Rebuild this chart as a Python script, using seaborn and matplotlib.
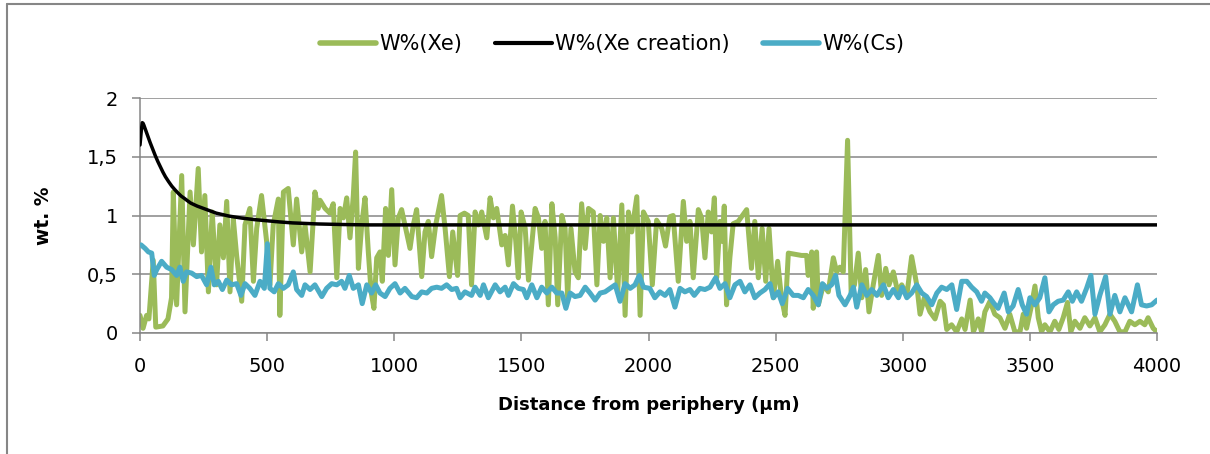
import matplotlib
matplotlib.use("Agg")
import matplotlib.pyplot as plt
import seaborn as sns
from matplotlib.lines import Line2D
from matplotlib.ticker import FuncFormatter

# W%(Xe): distance (um) / wt.%
xe_dist = [0, 12, 26, 35, 52, 62, 90, 110, 124, 131, 144, 164, 177, 197, 210, 229, 242, 255, 269, 284,
           301, 314, 328, 341, 354, 367, 380, 400, 413, 432, 446, 459, 478, 498, 511, 524, 544, 550, 564, 583,
           603, 616, 636,
           649, 669, 688, 701, 708, 728, 747, 760, 774, 787, 800, 813, 826, 839, 848, 859, 872, 885, 898, 909,
           920, 931, 944, 953, 966, 977, 990, 1003, 1016, 1029, 1042, 1062, 1075, 1088, 1108, 1121, 1134, 1147,
           1163, 1186, 1200, 1217, 1230, 1249, 1259, 1276, 1291, 1304,
           1318, 1331, 1344, 1364, 1377, 1390, 1403, 1423, 1436, 1449, 1465, 1478, 1488, 1499, 1515, 1528, 1541,
           1554, 1567, 1580, 1593, 1606, 1620, 1633, 1643, 1659, 1672, 1682, 1695, 1711, 1724, 1737, 1751, 1764,
           1783, 1797, 1810, 1823, 1836, 1849, 1862, 1879, 1895, 1908, 1921, 1934, 1954, 1967, 1980,
           1999, 2015, 2032, 2052, 2067, 2084, 2097, 2117, 2137, 2150, 2163, 2176, 2196, 2209, 2222, 2235, 2248,
           2259, 2268, 2281, 2290, 2298, 2307, 2320, 2333, 2353, 2386, 2405, 2418, 2432, 2447, 2461, 2474, 2491,
           2508, 2523, 2537, 2550, 2602, 2622, 2628, 2642, 2648, 2661,
           2668, 2688, 2707, 2727, 2740, 2753, 2766, 2783, 2797, 2810, 2825, 2839, 2854, 2867, 2884, 2904, 2917,
           2933, 2946, 2963, 2980, 2996, 3016, 3035, 3055, 3068, 3085, 3107, 3127, 3147, 3160, 3173, 3192, 3212,
           3232, 3245, 3265, 3278, 3297, 3310,
           3323, 3343, 3362, 3382, 3402, 3421, 3441, 3461, 3474, 3487, 3507, 3520, 3533, 3546, 3559, 3579, 3598,
           3614, 3631, 3648, 3661, 3677, 3697, 3716, 3736, 3756, 3775, 3795, 3815, 3834, 3854, 3874, 3893, 3913,
           3933, 3952, 3965, 3985, 4000]
xe_wt = [0.15, 0.04, 0.15, 0.12, 0.62, 0.05, 0.06, 0.12, 0.3, 1.2, 0.24, 1.34, 0.18, 1.2, 0.75, 1.4, 0.69, 1.17, 0.35, 1.03,
         0.41, 0.92, 0.64, 1.12, 0.35, 0.97, 0.66, 0.27, 0.92, 1.06, 0.44, 0.89, 1.17, 0.78, 0.41, 0.92, 1.14, 0.15, 1.2, 1.23,
         0.75, 1.14, 0.69,
         0.92, 0.52, 1.2, 1.06, 1.13, 1.06, 1.02, 1.1, 0.47, 1.06, 0.98, 1.15, 0.81, 1.17, 1.54, 0.55, 0.92, 1.15, 0.69, 0.35,
         0.21, 0.64, 0.69, 0.44, 1.06, 0.66, 1.22, 0.58, 0.98, 1.05, 0.92, 0.72, 0.92, 1.05, 0.48, 0.86, 0.95, 0.65,
         0.92, 1.17, 0.89, 0.48, 0.86, 0.49, 1.0, 1.02, 1.0, 0.41,
         1.03, 0.92, 1.03, 0.81, 1.15, 0.98, 1.06, 0.75, 0.83, 0.58, 1.08, 0.78, 0.47, 1.03, 0.89, 0.45, 0.75,
         1.06, 0.98, 0.72, 0.95, 0.24, 1.1, 0.81, 0.24, 1.0, 0.89, 0.3, 0.89, 0.52, 0.47, 1.1, 0.72, 1.06,
         1.03, 0.41, 1.0, 0.78, 0.98, 0.47, 0.98, 0.35, 1.09, 0.15, 1.03, 0.86, 1.16, 0.15, 1.03,
         0.95, 0.41, 0.96, 0.89, 0.74, 0.99, 1.0, 0.44, 1.12, 0.78, 0.95, 0.47, 1.05, 0.98, 0.64, 1.03, 0.86,
         1.15, 0.47, 0.95, 0.78, 1.08, 0.24, 0.64, 0.93, 0.95, 1.05, 0.55, 0.95, 0.47, 0.89, 0.44, 0.89, 0.3,
         0.61, 0.3, 0.15, 0.68, 0.66, 0.66, 0.49, 0.69, 0.21, 0.69,
         0.24, 0.41, 0.35, 0.64, 0.52, 0.56, 0.52, 1.64, 0.35, 0.41, 0.68, 0.3, 0.54, 0.18, 0.41, 0.66, 0.32,
         0.55, 0.41, 0.52, 0.35, 0.41, 0.32, 0.65, 0.41, 0.16, 0.3, 0.18, 0.12, 0.27, 0.24, 0.03, 0.07, 0.01,
         0.12, 0.03, 0.28, 0.01, 0.12, 0.01,
         0.18, 0.27, 0.16, 0.13, 0.04, 0.16, 0.01, 0.01, 0.16, 0.04, 0.24, 0.4, 0.13, 0.01, 0.07, 0.01, 0.1,
         0.03, 0.13, 0.26, 0.01, 0.1, 0.04, 0.13, 0.06, 0.13, 0.01, 0.07, 0.16, 0.1, 0.01, 0.01, 0.1, 0.07,
         0.1, 0.07, 0.13, 0.04, 0.01]

# W%(Xe creation): smooth curve
creation_dist = [0, 5, 9, 12, 15, 20, 25, 30, 40, 50, 60, 70, 80, 90, 100, 112, 125, 137, 150, 162, 175,
                 187, 200, 225, 250, 275, 300, 350, 400, 450, 500, 550, 600, 700, 800, 900, 1000,
                 1500, 2000, 2500, 3000, 3500, 4000]
creation_wt = [1.6, 1.72, 1.79, 1.785, 1.77, 1.74, 1.71, 1.68, 1.62, 1.565, 1.51, 1.46, 1.415, 1.37, 1.33,
               1.29, 1.25, 1.22, 1.19, 1.165, 1.145, 1.125, 1.105, 1.08, 1.06, 1.04, 1.02, 0.995, 0.978,
               0.965, 0.955, 0.945, 0.937, 0.928, 0.923, 0.92, 0.92, 0.92, 0.92, 0.92, 0.92, 0.92, 0.92]

# W%(Cs)
cs_dist = [4, 20, 33, 46, 56, 66, 85, 105, 124, 144, 157, 170, 183, 203, 223, 242, 262, 279, 292, 308,
           324, 341, 360, 380, 397, 413, 432, 452, 472, 489, 501, 511, 528, 544, 564, 583, 603, 616, 636,
           649, 669, 688, 715, 734, 754, 774, 793, 806, 823, 839, 859, 874, 892, 911, 927, 944, 964, 983,
           1003, 1023, 1042, 1069, 1088, 1108, 1128, 1147, 1167, 1186, 1206, 1226, 1245, 1259, 1278, 1304,
           1318, 1338, 1351, 1370, 1397, 1416, 1436, 1449, 1469, 1488, 1508, 1521, 1541, 1561, 1580, 1600,
           1620, 1639, 1659, 1675, 1692, 1711, 1731, 1751, 1770, 1790, 1810, 1829, 1849, 1869, 1888, 1908,
           1928, 1947, 1964, 1980,
           2005, 2025, 2045, 2065, 2084, 2104, 2124, 2143, 2163, 2180, 2202, 2222, 2242, 2264, 2281, 2301,
           2320, 2340, 2360, 2379, 2399, 2418, 2438, 2458, 2478, 2491, 2510, 2526, 2547, 2569, 2589, 2609,
           2628, 2648,
           2668, 2684, 2701, 2720, 2736, 2749, 2773, 2793, 2806, 2819, 2839, 2858, 2878, 2898, 2924, 2943,
           2963, 2983, 2998, 3016, 3035, 3055, 3075, 3094, 3114, 3134, 3153, 3173, 3193, 3212, 3232, 3252,
           3271, 3291, 3310,
           3323, 3343, 3356, 3375, 3399, 3415, 3434, 3454, 3470, 3487, 3500, 3520, 3539, 3559, 3575, 3592,
           3611, 3631, 3651, 3667, 3684, 3703, 3723, 3740, 3756, 3775, 3798, 3815, 3834, 3854, 3874, 3900,
           3923, 3939, 3959, 3979, 4000]
cs_wt = [0.75, 0.72, 0.69, 0.68, 0.49, 0.54, 0.61, 0.56, 0.54, 0.49, 0.56, 0.44, 0.52, 0.51, 0.48, 0.49, 0.41, 0.56, 0.41, 0.44,
         0.37, 0.45, 0.41, 0.42, 0.32, 0.42, 0.38, 0.32, 0.44, 0.38, 0.76, 0.38, 0.35, 0.42, 0.38, 0.41, 0.52, 0.37, 0.32,
         0.41, 0.37, 0.41, 0.31, 0.38, 0.42, 0.41, 0.44, 0.38, 0.49, 0.38, 0.41, 0.25, 0.41, 0.34, 0.41, 0.34, 0.31, 0.38,
         0.42, 0.34, 0.38, 0.31, 0.3, 0.35, 0.34, 0.38, 0.39, 0.38, 0.41, 0.37, 0.38, 0.3, 0.35, 0.32,
         0.39, 0.32, 0.41, 0.3, 0.41, 0.35, 0.39, 0.32, 0.42, 0.38, 0.37, 0.3, 0.41, 0.3, 0.39, 0.34,
         0.39, 0.34, 0.34, 0.21, 0.34, 0.31, 0.32, 0.39, 0.34, 0.28, 0.34, 0.35, 0.38, 0.41, 0.27, 0.42,
         0.38, 0.41, 0.49, 0.39,
         0.38, 0.3, 0.35, 0.32, 0.37, 0.22, 0.38, 0.35, 0.37, 0.32, 0.38, 0.37, 0.39, 0.47, 0.38, 0.42,
         0.3, 0.41, 0.44, 0.35, 0.41, 0.3, 0.34, 0.37, 0.42, 0.3, 0.35, 0.25, 0.38, 0.32, 0.32, 0.3,
         0.37, 0.32,
         0.24, 0.42, 0.38, 0.41, 0.49, 0.32, 0.24, 0.32, 0.39, 0.22, 0.41, 0.32, 0.37, 0.32, 0.41, 0.3,
         0.37, 0.3, 0.39, 0.3, 0.34, 0.41, 0.34, 0.31, 0.24, 0.34, 0.39, 0.37, 0.41, 0.2, 0.44, 0.44,
         0.39, 0.35, 0.27,
         0.34, 0.3, 0.26, 0.21, 0.34, 0.18, 0.23, 0.37, 0.24, 0.16, 0.3, 0.24, 0.3, 0.47, 0.18, 0.24,
         0.27, 0.28, 0.35, 0.27, 0.35, 0.27, 0.38, 0.49, 0.16, 0.32, 0.48, 0.16, 0.32, 0.18, 0.3, 0.18,
         0.41, 0.24, 0.23, 0.24, 0.28]

y_ticks = [0, 0.5, 1, 1.5, 2]
x_ticks = [0, 500, 1000, 1500, 2000, 2500, 3000, 3500, 4000]

GREEN = "#9BBB59"
BLUE = "#4BACC6"
GRID = "#868686"

sns.set_style("white")
plt.rcParams['font.family'] = ['DejaVu Sans']

fig = plt.figure(figsize=(12.1, 4.54), dpi=100)
ax = fig.add_axes([140 / 1210, 1 - 333 / 454, 1017 / 1210, 235 / 454])

sns.lineplot(x=xe_dist, y=xe_wt, ax=ax, color=GREEN, linewidth=3.6, estimator=None, sort=False)
sns.lineplot(x=creation_dist, y=creation_wt, ax=ax, color="black", linewidth=2.5, estimator=None, sort=False)
sns.lineplot(x=cs_dist, y=cs_wt, ax=ax, color=BLUE, linewidth=3.6, estimator=None, sort=False)

# draw order: creation on top, then Cs, then Xe
ax.lines[1].set_zorder(4)
ax.lines[2].set_zorder(3)
ax.lines[0].set_zorder(2)

ax.set_xlim(0, 4000)
ax.set_ylim(0, 2)
ax.set_xticks(x_ticks)
ax.set_yticks(y_ticks)
ax.yaxis.set_major_formatter(FuncFormatter(lambda v, p: ('%g' % v).replace('.', ',')))
ax.grid(axis='y', color=GRID, linewidth=1.1)
ax.grid(axis='x', visible=False)
ax.set_axisbelow(True)
for s in ['top', 'right']:
    ax.spines[s].set_visible(False)
for s in ['left', 'bottom']:
    ax.spines[s].set_color(GRID)
    ax.spines[s].set_linewidth(1.1)
ax.tick_params(axis='both', which='major', direction='out', length=6, width=1.1, color=GRID,
               labelsize=14, labelcolor='black')
ax.tick_params(axis='x', pad=11, bottom=True)
ax.tick_params(axis='y', pad=10, left=True)

ax.set_xlabel('Distance from periphery (µm)', fontsize=13, fontweight='bold', labelpad=15, color='black')
ax.set_ylabel('wt. %', fontsize=13.5, fontweight='bold', labelpad=24, color='black')

handles = [Line2D([], [], color=GREEN, linewidth=4, solid_capstyle='round'),
           Line2D([], [], color='black', linewidth=3),
           Line2D([], [], color=BLUE, linewidth=4, solid_capstyle='round')]
leg = fig.legend(handles, ['W%(Xe)', 'W%(Xe creation)', 'W%(Cs)'], loc='center',
                 bbox_to_anchor=(612 / 1210, 1 - 44 / 454), ncol=3, frameon=False, fontsize=15,
                 handlelength=2.7, handletextpad=0.15, columnspacing=1.6)
for t in leg.get_texts():
    t.set_color('black')

# chart-area border (top and left edges visible)
fig.add_artist(Line2D([7 / 1210, 7 / 1210], [0, 1 - 4 / 454], transform=fig.transFigure,
                      color=GRID, linewidth=1.5))
fig.add_artist(Line2D([7 / 1210, 1], [1 - 4 / 454, 1 - 4 / 454], transform=fig.transFigure,
                      color=GRID, linewidth=1.5))

fig.savefig('out.png', dpi=100)
